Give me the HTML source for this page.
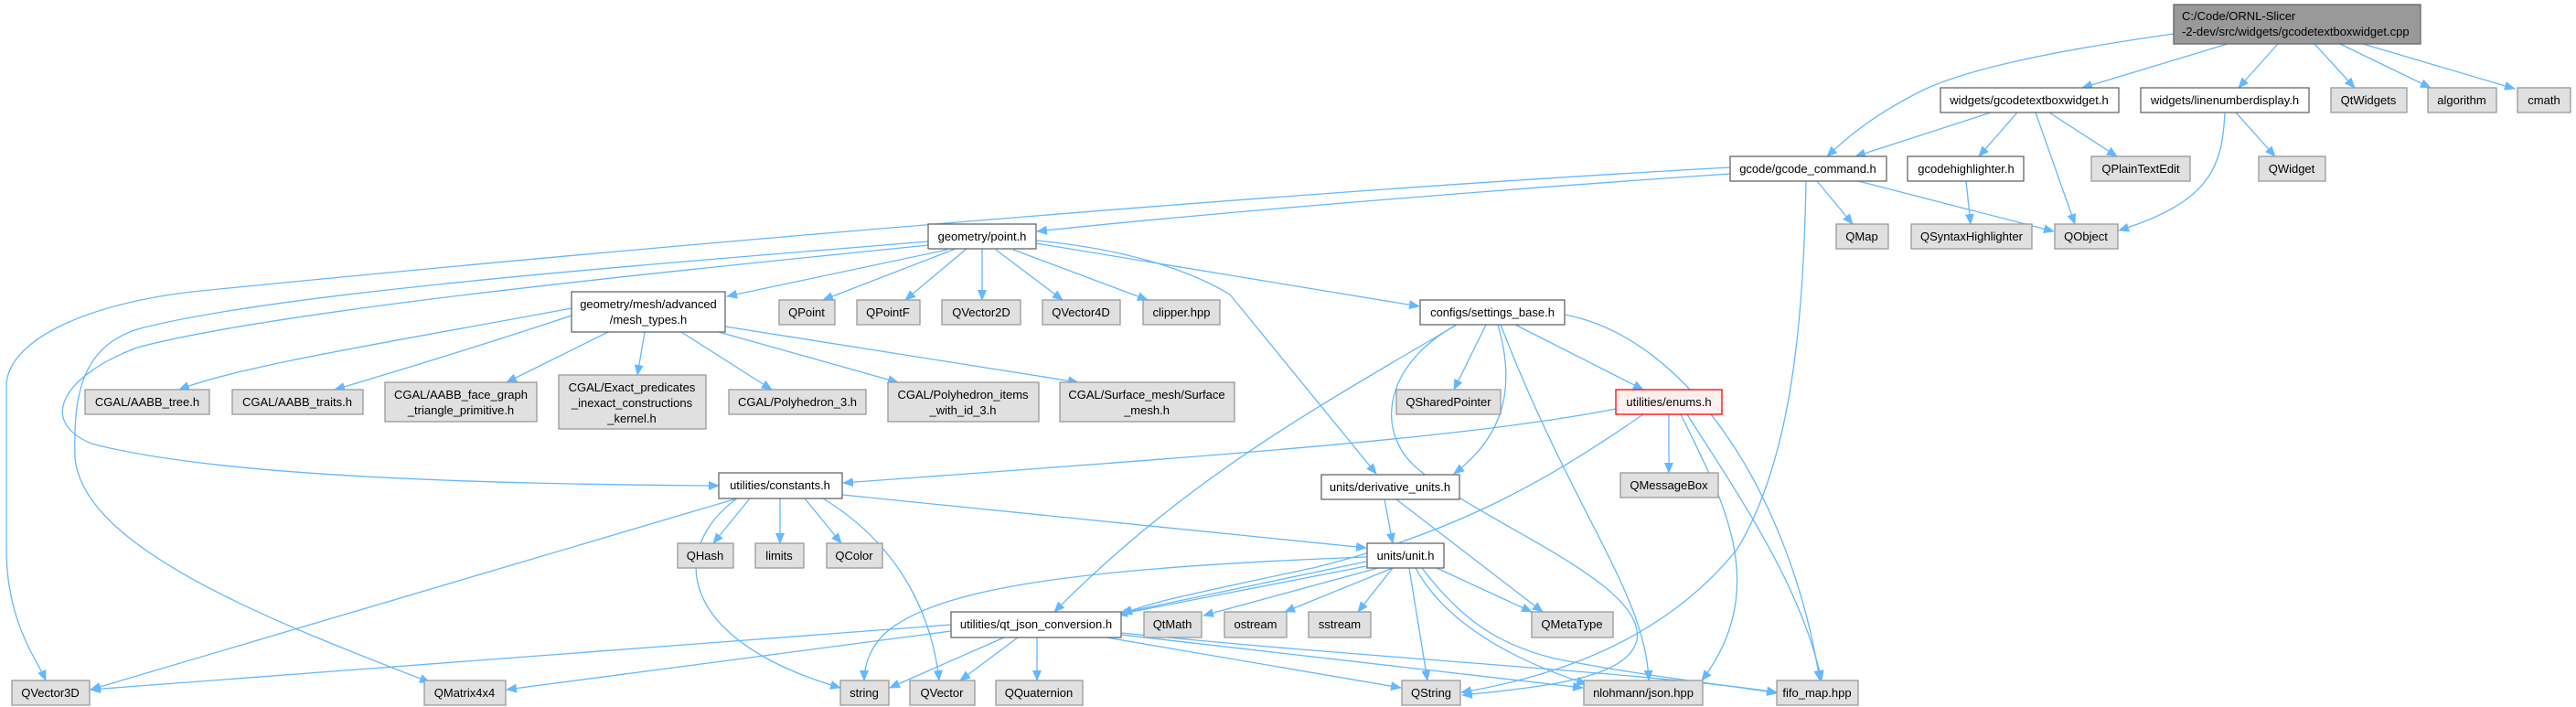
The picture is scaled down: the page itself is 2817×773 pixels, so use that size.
<!DOCTYPE html>
<html><head><meta charset="utf-8"><style>
html,body{margin:0;padding:0;background:#fff;}
svg{display:block;}
text{font-family:"Liberation Sans",Arial,sans-serif;font-size:13px;fill:#000;}
.w{fill:#fff;stroke:#666;stroke-width:1.3}
.g{fill:#e0e0e0;stroke:#999;stroke-width:1.3}
.e{fill:none;stroke:#63b8ff;stroke-width:1.3;marker-end:url(#a)}
</style></head><body>
<svg width="2817" height="773" viewBox="0 0 2817 773" xmlns="http://www.w3.org/2000/svg">
<defs><marker id="a" markerWidth="12" markerHeight="10" refX="11" refY="5" orient="auto" markerUnits="userSpaceOnUse"><path d="M0,0 L12,5 L0,10z" fill="#63b8ff"/></marker></defs>

<!-- edges -->
<g>
<path class="e" d="M2436,48 L2277,96"/>
<path class="e" d="M2491,48 L2448,96"/>
<path class="e" d="M2531,48 L2575,96"/>
<path class="e" d="M2559,48 L2658,96"/>
<path class="e" d="M2584,48 L2750,97"/>
<path class="e" d="M2377,37 C2250,55 2150,75 2100,100 C2050,125 2020,150 1998,171"/>
<path class="e" d="M2177,123 L2029,171"/>
<path class="e" d="M2206,123 L2164,171"/>
<path class="e" d="M2226,123 L2269,245"/>
<path class="e" d="M2241,123 L2315,171"/>
<path class="e" d="M2445,123 L2488,171"/>
<path class="e" d="M2433,123 C2430,180 2420,220 2317,252"/>
<path class="e" d="M2150,198 L2155,245"/>
<path class="e" d="M1987,198 L2026,245"/>
<path class="e" d="M2032,198 L2246,253"/>
<path class="e" d="M1892,190 C1600,210 1300,235 1134,253"/>
<path class="e" d="M1892,183 C1400,210 700,270 220,318 C100,330 10,370 7,420 L7,600 C7,680 40,720 50,744"/>
<path class="e" d="M1975,198 C1972,350 1960,500 1900,600 C1820,700 1700,740 1598,757"/>
<path class="e" d="M1036,273 L795,324"/>
<path class="e" d="M1045,272 L900,328"/>
<path class="e" d="M1057,272 L990,328"/>
<path class="e" d="M1074,272 L1074,328"/>
<path class="e" d="M1089,273 L1162,328"/>
<path class="e" d="M1108,273 L1255,328"/>
<path class="e" d="M1133,266 L1552,335"/>
<path class="e" d="M1133,263 C1230,272 1300,295 1345,322 L1505,518"/>
<path class="e" d="M1015,264 C700,290 300,320 150,360 C90,380 80,430 82,500 C90,600 300,680 470,746"/>
<path class="e" d="M1015,268 C700,300 300,340 150,380 C70,410 40,460 100,485 C250,525 600,530 786,531"/>
<path class="e" d="M625,337 C450,370 260,400 196,426"/>
<path class="e" d="M625,345 C520,380 420,410 366,426"/>
<path class="e" d="M665,363 L554,418"/>
<path class="e" d="M705,363 L697,410"/>
<path class="e" d="M745,363 L844,426"/>
<path class="e" d="M786,363 L982,418"/>
<path class="e" d="M793,357 L1179,418"/>
<path class="e" d="M1625,355 L1590,426"/>
<path class="e" d="M1657,355 L1797,426"/>
<path class="e" d="M1638,355 C1660,430 1640,480 1590,518"/>
<path class="e" d="M1641,355 C1720,560 1800,650 1803,744"/>
<path class="e" d="M1711,344 C1850,370 1960,550 1990,744"/>
<path class="e" d="M1593,355 C1450,440 1300,520 1153,669"/>
<path class="e" d="M1593,355 C1510,400 1500,480 1560,520 C1640,580 1800,640 1790,700 C1780,740 1700,750 1599,760"/>
<path class="e" d="M1767,447 C1600,480 1300,500 922,528"/>
<path class="e" d="M1825,453 L1825,517"/>
<path class="e" d="M1797,453 C1700,520 1600,580 1440,620 C1300,650 1250,660 1227,672"/>
<path class="e" d="M1838,453 C1880,540 1940,640 1861,744"/>
<path class="e" d="M1845,453 C1900,540 1970,640 1992,744"/>
<path class="e" d="M1514,546 L1523,594"/>
<path class="e" d="M1527,546 L1687,669"/>
<path class="e" d="M820,545 L780,594"/>
<path class="e" d="M853,545 L853,594"/>
<path class="e" d="M880,545 L920,594"/>
<path class="e" d="M806,545 C730,600 740,700 919,752"/>
<path class="e" d="M900,545 C990,600 1020,680 1027,744"/>
<path class="e" d="M806,545 L99,754"/>
<path class="e" d="M921,541 L1494,599"/>
<path class="e" d="M1494,614 L1227,670"/>
<path class="e" d="M1494,619 L1222,672"/>
<path class="e" d="M1494,609 C1200,620 1050,640 985,680 C950,700 945,730 945,744"/>
<path class="e" d="M1507,621 L1316,673"/>
<path class="e" d="M1523,621 L1405,669"/>
<path class="e" d="M1523,621 L1485,669"/>
<path class="e" d="M1571,621 L1675,669"/>
<path class="e" d="M1541,621 L1561,744"/>
<path class="e" d="M1548,621 C1580,680 1650,720 1735,748"/>
<path class="e" d="M1555,621 C1600,680 1640,705 1700,720 C1800,740 1900,750 1943,758"/>
<path class="e" d="M1040,683 L99,754"/>
<path class="e" d="M1040,690 L554,754"/>
<path class="e" d="M1098,697 L973,752"/>
<path class="e" d="M1113,697 L1050,744"/>
<path class="e" d="M1134,697 L1134,744"/>
<path class="e" d="M1210,697 L1532,752"/>
<path class="e" d="M1226,694 L1731,752"/>
<path class="e" d="M1226,692 C1500,720 1800,735 1943,757"/>
</g>

<!-- nodes -->
<rect x="2377" y="5" width="270" height="43" fill="#999" stroke="#666" stroke-width="1.3"/>
<text x="2386" y="22">C:/Code/ORNL-Slicer</text>
<text x="2386" y="39">-2-dev/src/widgets/gcodetextboxwidget.cpp</text>

<rect class="w" x="2122" y="96" width="195" height="27"/><text x="2219" y="114" text-anchor="middle">widgets/gcodetextboxwidget.h</text>
<rect class="w" x="2341" y="96" width="184" height="27"/><text x="2433" y="114" text-anchor="middle">widgets/linenumberdisplay.h</text>
<rect class="g" x="2549" y="96" width="83" height="27"/><text x="2590" y="114" text-anchor="middle">QtWidgets</text>
<rect class="g" x="2655" y="96" width="75" height="27"/><text x="2692" y="114" text-anchor="middle">algorithm</text>
<rect class="g" x="2753" y="96" width="58" height="27"/><text x="2782" y="114" text-anchor="middle">cmath</text>

<rect class="w" x="1892" y="171" width="171" height="27"/><text x="1977" y="189" text-anchor="middle">gcode/gcode_command.h</text>
<rect class="w" x="2086" y="171" width="127" height="27"/><text x="2150" y="189" text-anchor="middle">gcodehighlighter.h</text>
<rect class="g" x="2287" y="171" width="108" height="27"/><text x="2341" y="189" text-anchor="middle">QPlainTextEdit</text>
<rect class="g" x="2470" y="171" width="73" height="27"/><text x="2506" y="189" text-anchor="middle">QWidget</text>

<rect class="w" x="1015" y="245" width="118" height="27"/><text x="1074" y="263" text-anchor="middle">geometry/point.h</text>
<rect class="g" x="2008" y="245" width="57" height="27"/><text x="2036" y="263" text-anchor="middle">QMap</text>
<rect class="g" x="2090" y="245" width="132" height="27"/><text x="2156" y="263" text-anchor="middle">QSyntaxHighlighter</text>
<rect class="g" x="2247" y="245" width="69" height="27"/><text x="2281" y="263" text-anchor="middle">QObject</text>

<rect class="w" x="625" y="319" width="168" height="44"/><text x="709" y="337" text-anchor="middle">geometry/mesh/advanced</text><text x="709" y="354" text-anchor="middle">/mesh_types.h</text>
<rect class="g" x="852" y="328" width="61" height="27"/><text x="882" y="346" text-anchor="middle">QPoint</text>
<rect class="g" x="937" y="328" width="69" height="27"/><text x="971" y="346" text-anchor="middle">QPointF</text>
<rect class="g" x="1030" y="328" width="86" height="27"/><text x="1073" y="346" text-anchor="middle">QVector2D</text>
<rect class="g" x="1140" y="328" width="85" height="27"/><text x="1182" y="346" text-anchor="middle">QVector4D</text>
<rect class="g" x="1250" y="328" width="84" height="27"/><text x="1292" y="346" text-anchor="middle">clipper.hpp</text>
<rect class="w" x="1553" y="328" width="158" height="27"/><text x="1632" y="346" text-anchor="middle">configs/settings_base.h</text>

<rect class="g" x="93" y="426" width="136" height="27"/><text x="161" y="444" text-anchor="middle">CGAL/AABB_tree.h</text>
<rect class="g" x="254" y="426" width="143" height="27"/><text x="325" y="444" text-anchor="middle">CGAL/AABB_traits.h</text>
<rect class="g" x="421" y="418" width="166" height="43"/><text x="504" y="436" text-anchor="middle">CGAL/AABB_face_graph</text><text x="504" y="453" text-anchor="middle">_triangle_primitive.h</text>
<rect class="g" x="611" y="410" width="161" height="59"/><text x="691" y="428" text-anchor="middle">CGAL/Exact_predicates</text><text x="691" y="445" text-anchor="middle">_inexact_constructions</text><text x="691" y="462" text-anchor="middle">_kernel.h</text>
<rect class="g" x="797" y="426" width="150" height="27"/><text x="872" y="444" text-anchor="middle">CGAL/Polyhedron_3.h</text>
<rect class="g" x="971" y="418" width="165" height="43"/><text x="1053" y="436" text-anchor="middle">CGAL/Polyhedron_items</text><text x="1053" y="453" text-anchor="middle">_with_id_3.h</text>
<rect class="g" x="1159" y="418" width="191" height="43"/><text x="1254" y="436" text-anchor="middle">CGAL/Surface_mesh/Surface</text><text x="1254" y="453" text-anchor="middle">_mesh.h</text>
<rect class="g" x="1527" y="426" width="114" height="27"/><text x="1584" y="444" text-anchor="middle">QSharedPointer</text>
<rect x="1767" y="426" width="116" height="27" fill="#fff0f0" stroke="#f00" stroke-width="1.3"/><text x="1825" y="444" text-anchor="middle">utilities/enums.h</text>

<rect class="w" x="786" y="517" width="135" height="28"/><text x="853" y="535" text-anchor="middle">utilities/constants.h</text>
<rect class="w" x="1445" y="519" width="151" height="27"/><text x="1520" y="537" text-anchor="middle">units/derivative_units.h</text>
<rect class="g" x="1772" y="517" width="107" height="27"/><text x="1825" y="535" text-anchor="middle">QMessageBox</text>

<rect class="g" x="741" y="594" width="61" height="27"/><text x="771" y="612" text-anchor="middle">QHash</text>
<rect class="g" x="826" y="594" width="53" height="27"/><text x="852" y="612" text-anchor="middle">limits</text>
<rect class="g" x="904" y="594" width="61" height="27"/><text x="934" y="612" text-anchor="middle">QColor</text>
<rect class="w" x="1495" y="594" width="84" height="27"/><text x="1537" y="612" text-anchor="middle">units/unit.h</text>

<rect class="w" x="1040" y="669" width="186" height="28"/><text x="1133" y="687" text-anchor="middle">utilities/qt_json_conversion.h</text>
<rect class="g" x="1251" y="669" width="63" height="28"/><text x="1282" y="687" text-anchor="middle">QtMath</text>
<rect class="g" x="1339" y="669" width="68" height="28"/><text x="1373" y="687" text-anchor="middle">ostream</text>
<rect class="g" x="1431" y="669" width="68" height="28"/><text x="1465" y="687" text-anchor="middle">sstream</text>
<rect class="g" x="1675" y="669" width="89" height="28"/><text x="1719" y="687" text-anchor="middle">QMetaType</text>

<rect class="g" x="13" y="744" width="85" height="27"/><text x="55" y="762" text-anchor="middle">QVector3D</text>
<rect class="g" x="464" y="744" width="89" height="27"/><text x="508" y="762" text-anchor="middle">QMatrix4x4</text>
<rect class="g" x="919" y="744" width="53" height="27"/><text x="945" y="762" text-anchor="middle">string</text>
<rect class="g" x="995" y="744" width="71" height="27"/><text x="1030" y="762" text-anchor="middle">QVector</text>
<rect class="g" x="1089" y="744" width="95" height="27"/><text x="1136" y="762" text-anchor="middle">QQuaternion</text>
<rect class="g" x="1533" y="744" width="64" height="27"/><text x="1565" y="762" text-anchor="middle">QString</text>
<rect class="g" x="1732" y="744" width="130" height="27"/><text x="1797" y="762" text-anchor="middle">nlohmann/json.hpp</text>
<rect class="g" x="1943" y="744" width="89" height="27"/><text x="1987" y="762" text-anchor="middle">fifo_map.hpp</text>
</svg>
</body></html>
